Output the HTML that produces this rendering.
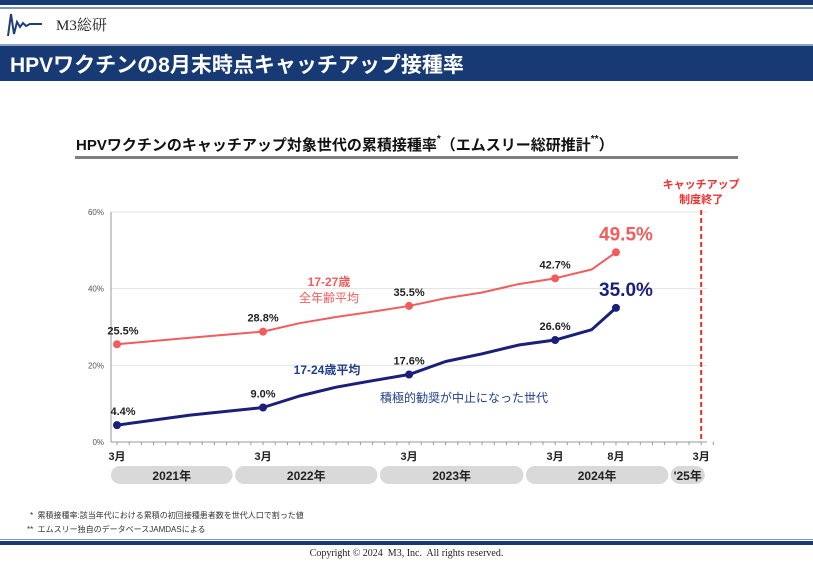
<!DOCTYPE html>
<html><head><meta charset="utf-8"><style>
body{margin:0;width:813px;height:563px;background:#fff;position:relative;overflow:hidden;font-family:"Liberation Sans","Noto Sans CJK JP",sans-serif;}
.abs{position:absolute;}
</style></head><body>
<div class="abs" style="left:0;top:0;width:813px;height:5px;background:#173a74"></div>
<div class="abs" style="left:0;top:7px;width:813px;height:2px;background:#7d93b8"></div>
<svg class="abs" style="left:6px;top:10px" width="42" height="30" viewBox="0 0 42 30"><path d="M2 26 L5 4 L8 24 L11 12 L14 17 L17 13 L20 16 L24 14 L36 14" fill="none" stroke="#1f3f7a" stroke-width="2"/></svg>
<div class="abs" style="left:56px;top:14px;font-family:'Liberation Serif','Noto Serif CJK SC',serif;font-size:15px;color:#222">M3総研</div>
<div class="abs" style="left:0;top:44px;width:813px;height:35px;background:#173a74;border-top:2px solid #8ea3c6"></div>
<div class="abs" style="left:10px;top:49px;font-size:21px;font-weight:bold;color:#fff">HPVワクチンの8月末時点キャッチアップ接種率</div>
<div class="abs" style="left:76px;top:134px;font-size:15px;font-weight:bold;color:#111">HPVワクチンのキャッチアップ対象世代の累積接種率<span style="font-size:10px;vertical-align:top">*</span>（エムスリー総研推計<span style="font-size:10px;vertical-align:top">**</span>）</div>
<div class="abs" style="left:75px;top:156px;width:663px;height:3px;background:#808080"></div>

<svg class="abs" id="chart" style="left:0;top:0" width="813" height="563"></svg>

<div class="abs" style="left:30px;top:510px;font-size:8px;color:#333">*&nbsp; 累積接種率:該当年代における累積の初回接種患者数を世代人口で割った値</div>
<div class="abs" style="left:27px;top:524px;font-size:8px;color:#333">**&nbsp; エムスリー独自のデータベースJAMDASによる</div>
<div class="abs" style="left:0;top:541px;width:813px;height:4px;background:#173a74"></div>
<div class="abs" style="left:0;top:539px;width:813px;height:1px;background:#7d93b8"></div>
<div class="abs" style="left:0;top:548px;width:813px;text-align:center;font-family:'Liberation Serif',serif;font-size:10px;color:#222">Copyright © 2024&nbsp; M3, Inc.&nbsp; All rights reserved.</div>

<script>
const months = [0,6,12,15,18,21,24,27,30,33,36,39,41];
const redValues = [25.5,27.2,28.8,31,32.6,34,35.5,37.5,39,41.2,42.7,45,49.5];
const blueValues = [4.4,7.0,9.0,12,14.3,16,17.6,21,23,25.3,26.6,29.3,35.0];
const labeledIdx = [0,2,6,10];
const yTicks = [0,20,40,60];
const monthTickLabels = [[0,'3月'],[12,'3月'],[24,'3月'],[36,'3月'],[41,'8月'],[48,'3月']];
const yearPills = [[-0.5,9.5,'2021年'],[9.7,21.4,'2022年'],[21.6,33.4,'2023年'],[33.6,45.3,'2024年'],[45.5,48.3,"'25年"]];

const NS='http://www.w3.org/2000/svg';
const svg=document.getElementById('chart');
const x=m=>117+12.17*m;
const y=v=>442-3.833*v;
function mk(t,a,p){const e=document.createElementNS(NS,t);for(const k in a)e.setAttribute(k,a[k]);(p||svg).appendChild(e);return e;}

yTicks.forEach(v=>{
  if(v>0){const g=mk('line',{x1:111,x2:707,y1:y(v),y2:y(v),stroke:'#e3e3e3','stroke-width':1});
  
  }
  const t=mk('text',{x:104,y:y(v)+3,'text-anchor':'end','font-size':8,fill:'#555'});t.textContent=v+'%';
  
  
});
let ax=mk('line',{x1:111,x2:111,y1:y(60),y2:y(0),stroke:'#999'});


let xa=mk('line',{x1:111,x2:707,y1:y(0),y2:y(0),stroke:'#999'});


for(let m=0;m<=49;m++){mk('line',{x1:x(m),x2:x(m),y1:y(0),y2:y(0)+3,stroke:'#999'});}

monthTickLabels.forEach(([m,l])=>{const t=mk('text',{x:x(m),y:460,'text-anchor':'middle','font-size':11,'font-weight':'bold',fill:'#222'});t.textContent=l;

});
yearPills.forEach(([a,b,l])=>{const r=mk('rect',{x:x(a),y:466,width:x(b)-x(a),height:18,rx:9,fill:'#d9d9d9'});


const t=mk('text',{x:(x(a)+x(b))/2,y:480,'text-anchor':'middle','font-size':12,'font-weight':'bold',fill:'#222'});t.textContent=l;

});

function series(vals,color,w,name){
  const p=mk('polyline',{points:months.map((m,i)=>x(m)+','+y(vals[i])).join(' '),fill:'none',stroke:color,'stroke-width':w,'stroke-linejoin':'round'});
  
  
  labeledIdx.concat([months.length-1]).forEach(i=>{const c=mk('circle',{cx:x(months[i]),cy:y(vals[i]),r:4,fill:color});
  
  });
  labeledIdx.forEach(i=>{const t=mk('text',{x:x(months[i])+(i==0?6:0),y:y(vals[i])-10,'text-anchor':'middle','font-size':11,'font-weight':'bold',fill:'#222'});t.textContent=vals[i].toFixed(1)+'%';
  
  });
  const last=vals.length-1;
  const t=mk('text',{x:x(months[last])+10,y:y(vals[last])-12,'text-anchor':'middle','font-size':19,'font-weight':'bold',fill:color});t.textContent=vals[last].toFixed(1)+'%';
  
  
}
series(redValues,'#f25c5c',2,'red-series');
series(blueValues,'#1a1f7a',3,'blue-series');

function txt(s,xx,yy,size,col,bold,name){const t=mk('text',{x:xx,y:yy,'text-anchor':'middle','font-size':size,fill:col,'font-weight':bold?'bold':'normal'});t.textContent=s;

}
txt('17-27歳',329,286,12,'#f25c5c',true,'red-legend-line1');
txt('全年齢平均',329,302,12,'#f25c5c',false,'red-legend-line2');
txt('17-24歳平均',327,374,12,'#1f3f8a',true,'blue-legend');
txt('積極的勧奨が中止になった世代',464,402,12,'#1f3f8a',false,'blue-note');

const dl=mk('line',{x1:x(48),x2:x(48),y1:210,y2:y(0),stroke:'#f03030','stroke-width':2,'stroke-dasharray':'5,3'});


txt('キャッチアップ',x(48),188,11,'#f03030',true,'catchup-end-label-1');
txt('制度終了',x(48),203,11,'#f03030',true,'catchup-end-label-2');
</script>
</body></html>
